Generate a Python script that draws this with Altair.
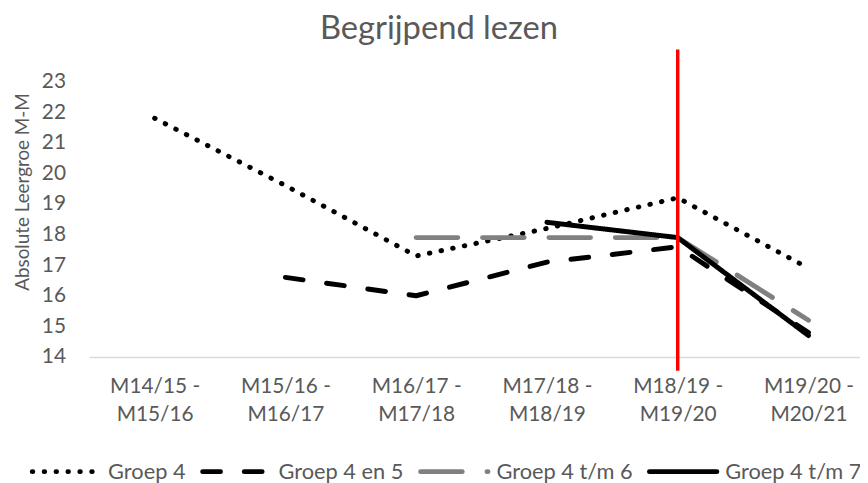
import altair as alt
import pandas as pd

periods = ["M14/15 - M15/16", "M15/16 - M16/17", "M16/17 - M17/18",
           "M17/18 - M18/19", "M18/19 - M19/20", "M19/20 - M20/21"]
series = ["Groep 4", "Groep 4 en 5", "Groep 4 t/m 6", "Groep 4 t/m 7"]
groep4 = [21.8, 19.6, 17.3, 18.2, 19.2, 16.9]
groep4en5 = [None, 16.6, 16.0, 17.1, 17.6, 14.8]
groep4tm6 = [None, None, 17.9, 17.9, 17.9, 15.2]
groep4tm7 = [None, None, None, 18.4, 17.9, 14.7]
y_ticks = [14, 15, 16, 17, 18, 19, 20, 21, 22, 23]
marker_period = "M18/19 - M19/20"
marker_top = 24.05
marker_bottom = 13.55

colors = ["#000000", "#000000", "#808080", "#000000"]
dashes = [[0.5, 11.5], [18, 24], [42, 25], [1, 0]]

rows = []
for name, vals in zip(series, [groep4, groep4en5, groep4tm6, groep4tm7]):
    for p, v in zip(periods, vals):
        if v is not None:
            rows.append({"serie": name, "periode": p, "waarde": v})
df = pd.DataFrame(rows)

FONT = "Lato"
GREY = "#595959"

x_scale = alt.Scale(type="point", domain=periods, range=[0, 792], padding=0.5)
y_scale = alt.Scale(domain=[14, 23], nice=False, zero=False)

x_axis = alt.Axis(
    title=None,
    labelExpr="[slice(datum.label, 0, 8), slice(datum.label, 9)]",
    labelAngle=0,
    ticks=False,
    domain=False,
    grid=False,
    labelFont=FONT,
    labelFontSize=21,
    labelColor=GREY,
    labelPadding=19,
    labelLineHeight=28,
)

y_axis = alt.Axis(
    values=y_ticks,
    tickCount=10,
    title="Absolute Leergroe M-M",
    domain=False,
    ticks=False,
    grid=True,
    gridColor={"condition": {"test": "datum.value === 14", "value": "#D9D9D9"},
               "value": "transparent"},
    gridWidth=1.5,
    labelOverlap=False,
    labelFont=FONT,
    labelFontSize=21,
    labelColor=GREY,
    labelPadding=24,
    titleFont=FONT,
    titleFontSize=19,
    titleColor=GREY,
    titleFontWeight="normal",
    titlePadding=9,
    titleY=111,
)

legend_kw = dict(
    title=None,
    orient="none",
    direction="horizontal",
    legendX=-60,
    legendY=357,
    symbolType="stroke",
    symbolSize=4624,
    symbolStrokeWidth=5,
    labelFont=FONT,
    labelFontSize=22,
    labelColor=GREY,
    labelOffset=6,
    columnPadding=6,
)

lines = alt.Chart(df).mark_line(strokeWidth=5, strokeCap="round", strokeJoin="round").encode(
    x=alt.X("periode:N", sort=periods, scale=x_scale, axis=x_axis),
    y=alt.Y("waarde:Q", scale=y_scale, axis=y_axis),
    color=alt.Color(
        "serie:N",
        sort=series,
        scale=alt.Scale(domain=series, range=colors),
        legend=alt.Legend(**legend_kw),
    ),
    strokeDash=alt.StrokeDash(
        "serie:N",
        sort=series,
        scale=alt.Scale(domain=series, range=dashes),
        legend=alt.Legend(**legend_kw),
    ),
)

marker_df = pd.DataFrame({"periode": [marker_period], "top": [marker_top], "bottom": [marker_bottom]})
marker = alt.Chart(marker_df).mark_rule(color="#FF0000", strokeWidth=3.5).encode(
    x=alt.X("periode:N", sort=periods, scale=x_scale, axis=x_axis),
    y=alt.Y("top:Q", scale=y_scale, axis=y_axis),
    y2="bottom:Q",
)

chart = alt.layer(lines, marker).properties(
    width=778,
    height=278,
    title=alt.TitleParams(
        "Begrijpend lezen", font=FONT, fontSize=33, fontWeight="normal",
        color=GREY, dx=-36, offset=2,
    ),
    autosize=alt.AutoSizeParams(type="none"),
    padding={"left": 82, "top": 72, "right": 0, "bottom": 125},
).configure(background="white").configure_view(stroke=None)

chart.save(
    "out.html",
    embed_options={
        "renderer": "svg",
        "actions": False,
        "patch": [
            {"op": "add", "path": "/legends/0/encode",
             "value": {"symbols": {"update": {"strokeCap": {"value": "round"},
                                              "fill": {"value": "transparent"}}}}}
        ],
    },
)
